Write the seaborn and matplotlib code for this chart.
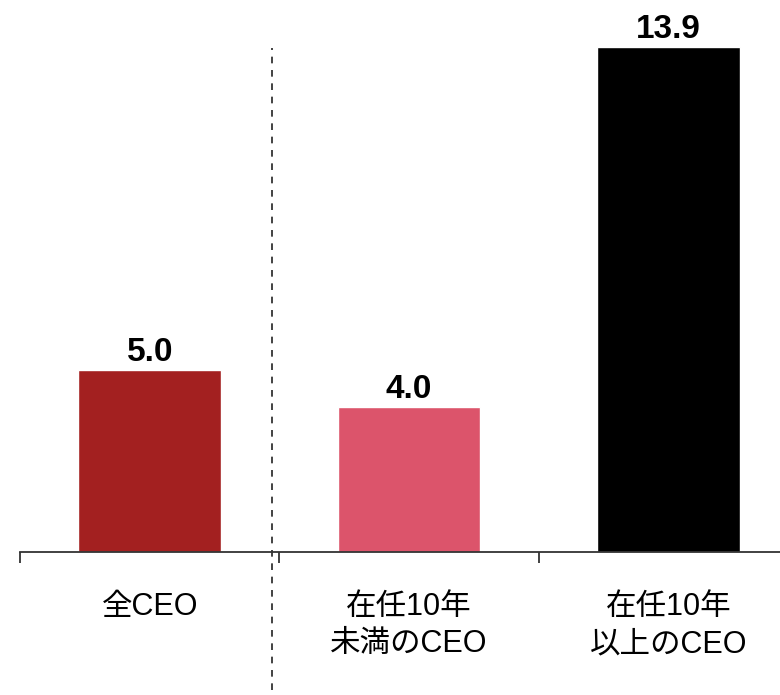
import matplotlib
matplotlib.use("Agg")
import matplotlib.pyplot as plt
import seaborn as sns
import pandas as pd
from matplotlib.ticker import FixedLocator

categories = ["全CEO", "在任10年\n未満のCEO", "在任10年\n以上のCEO"]
values = [5.0, 4.0, 13.9]
value_labels = ["5.0", "4.0", "13.9"]
colors = ["#A32020", "#DC546B", "#000000"]

sns.set_theme(style="white")
plt.rcParams["font.family"] = ["Liberation Sans", "Noto Sans CJK JP", "DejaVu Sans"]

df = pd.DataFrame({"group": categories, "value": values})

fig = plt.figure(figsize=(7.8, 6.95), dpi=100)
ax = fig.add_axes([20 / 780, (695 - 552) / 695, 760 / 780, 552 / 695])

sns.barplot(data=df, x="group", y="value", hue="group", palette=colors,
            width=0.55, legend=False, saturation=1, ax=ax)

ax.set_xlim(-0.5, 2.43)
ax.set_ylim(0, 15.2)
ax.set_xlabel("")
ax.set_ylabel("")
ax.set_yticks([])

for side in ["top", "right", "left"]:
    ax.spines[side].set_visible(False)
ax.spines["bottom"].set_color("#333333")
ax.spines["bottom"].set_linewidth(1.3)

# category labels, with boundary ticks between groups
ax.tick_params(axis="x", which="major", bottom=True, length=0, pad=29,
               labelsize=22, colors="black")
for lab in ax.get_xticklabels():
    lab.set_linespacing(1.3)
ax.xaxis.set_minor_locator(FixedLocator([-0.5, 0.5, 1.5]))
ax.tick_params(axis="x", which="minor", bottom=True, length=8, width=1.3,
               color="#333333", direction="out")

for i, (v, t) in enumerate(zip(values, value_labels)):
    ax.annotate(t, (i, v), xytext=(0, 1.5), textcoords="offset points",
                ha="center", va="bottom", fontsize=24, fontweight="bold",
                color="black")

# dashed separator between the overall group and the split groups
ax.axvline(0.471, ymin=-0.25, ymax=0.913, clip_on=False,
           color="#222222", linewidth=1.2, linestyle=(0, (4, 4)))

fig.savefig("out.png", dpi=100)
